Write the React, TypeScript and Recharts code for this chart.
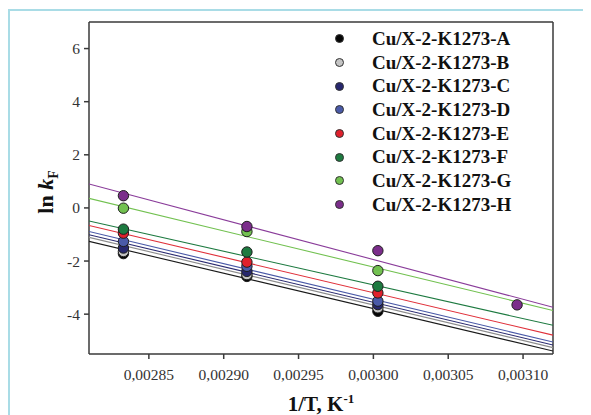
import React from "react";
import {
  ScatterChart,
  Scatter,
  XAxis,
  YAxis,
  ReferenceLine,
  Label,
} from "recharts";

const seriesNames = [
  "Cu/X-2-K1273-A",
  "Cu/X-2-K1273-B",
  "Cu/X-2-K1273-C",
  "Cu/X-2-K1273-D",
  "Cu/X-2-K1273-E",
  "Cu/X-2-K1273-F",
  "Cu/X-2-K1273-G",
  "Cu/X-2-K1273-H",
];
const pointColors = ["#050505", "#c4c4c4", "#27276e", "#4a5aa8", "#e0202c", "#1d7a40", "#72c150", "#7b2d8b"];
const lineColors = ["#1a1a1a", "#8c8c8c", "#2a2a70", "#4a5aa8", "#e0303a", "#1d7a40", "#72c150", "#8a3c9a"];

// 1/T values (K^-1)
const invT = [0.002833, 0.0029155, 0.003003, 0.003096];

// ln kF for each sample
const lnA = [-1.72, -2.58, -3.89];
const lnB = [-1.64, -2.51, -3.76];
const lnC = [-1.51, -2.39, -3.64];
const lnD = [-1.26, -2.2, -3.51];
const lnE = [-0.95, -2.04, -3.2];
const lnF = [-0.8, -1.66, -2.95];
const lnG = [-0.01, -0.89, -2.36];
const lnH = [0.46, -0.7, -1.61, -3.65];
const lnValues = [lnA, lnB, lnC, lnD, lnE, lnF, lnG, lnH];

// fitted lines, value at left and right edge of the plot
const fitStart = [-1.26, -1.11, -1.01, -0.89, -0.66, -0.49, 0.36, 0.9];
const fitEnd = [-5.39, -5.26, -5.16, -5.05, -4.79, -4.42, -3.86, -3.74];

const xMin = 0.00281;
const xMax = 0.00312;
const xTicks = [0.00285, 0.0029, 0.00295, 0.003, 0.00305, 0.0031];
const yTicks = [-4, -2, 0, 2, 4, 6];

const font = "'Liberation Serif', 'Times New Roman', serif";
const axisColor = "#3a3a3a";

function Dot(props: any) {
  const { cx, cy, fill } = props;
  if (cx == null || cy == null) return <g />;
  return <circle cx={cx} cy={cy} r={5.2} fill={fill} stroke="#1e1e1e" strokeWidth={1} />;
}

function LegendBox() {
  return (
    <div style={{ position: "absolute", left: 327, top: 19, fontFamily: font }}>
      {seriesNames.map((name, i) => (
        <div key={name} style={{ display: "flex", alignItems: "center", height: 23.7 }}>
          <span
            style={{
              display: "inline-block",
              width: 7,
              height: 7,
              borderRadius: "50%",
              background: pointColors[i],
              border: "1px solid #333",
              marginRight: 28,
            }}
          />
          <span style={{ fontSize: 19, fontWeight: "bold", color: "#111", whiteSpace: "nowrap" }}>{name}</span>
        </div>
      ))}
    </div>
  );
}

function YTitle() {
  return (
    <text
      x={45}
      y={184}
      transform="rotate(-90, 45, 184)"
      textAnchor="middle"
      fontFamily={font}
      fontWeight="bold"
      fontSize={22}
      fill="#111"
    >
      <tspan>ln </tspan>
      <tspan fontStyle="italic">k</tspan>
      <tspan fontSize={14} dy={5}>F</tspan>
    </text>
  );
}

function XTitle() {
  return (
    <text x={313} y={403} textAnchor="middle" fontFamily={font} fontWeight="bold" fontSize={21} fill="#111">
      <tspan>1/T, K</tspan>
      <tspan fontSize={13} dy={-8}>-1</tspan>
    </text>
  );
}

export default function App() {
  return (
    <div style={{ position: "relative", width: 583, height: 407, background: "#fff" }}>
      <div
        style={{
          position: "absolute",
          left: 0,
          top: 1,
          width: 620,
          height: 480,
          borderLeft: "2px solid #a9dce6",
          borderTop: "2px solid #a9dce6",
        }}
      />
      <div style={{ position: "absolute", left: 0, top: 0 }}>
        <ScatterChart
          width={583}
          height={407}
          margin={{ top: 14, right: 38, bottom: 31, left: 41 }}
          style={{ overflow: "visible" }}
        >
          <XAxis
            type="number"
            dataKey="x"
            domain={[xMin, xMax]}
            ticks={xTicks}
            allowDataOverflow
            tickFormatter={(v: number) => v.toFixed(5).replace(".", ",")}
            tick={{ fill: "#333", fontSize: 15.5, fontFamily: font }}
            tickSize={5}
            tickMargin={10}
            height={30}
            stroke={axisColor}
            strokeWidth={1.5}
          >
            <Label content={() => <XTitle />} />
          </XAxis>
          <YAxis
            type="number"
            dataKey="y"
            domain={[-5.5, 7]}
            ticks={yTicks}
            allowDataOverflow
            tick={{ fill: "#333", fontSize: 15.5, fontFamily: font }}
            tickSize={5}
            tickMargin={4}
            width={40}
            stroke={axisColor}
            strokeWidth={1.5}
          >
            <Label content={() => <YTitle />} />
          </YAxis>
          <ReferenceLine y={7} stroke={axisColor} strokeWidth={1.5} />
          <ReferenceLine x={xMax} stroke={axisColor} strokeWidth={1.5} />
          {seriesNames.map((name, i) => (
            <Scatter
              key={`fit-${name}`}
              data={[
                { x: xMin, y: fitStart[i] },
                { x: xMax, y: fitEnd[i] },
              ]}
              line={{ stroke: lineColors[i], strokeWidth: 1.1 }}
              shape={() => <g />}
              legendType="none"
              isAnimationActive={false}
            />
          ))}
          {seriesNames.map((name, i) => (
            <Scatter
              key={`pts-${name}`}
              name={name}
              data={lnValues[i].map((y, k) => ({ x: invT[k], y }))}
              fill={pointColors[i]}
              shape={<Dot />}
              isAnimationActive={false}
            />
          ))}
        </ScatterChart>
      </div>
      <LegendBox />
    </div>
  );
}
